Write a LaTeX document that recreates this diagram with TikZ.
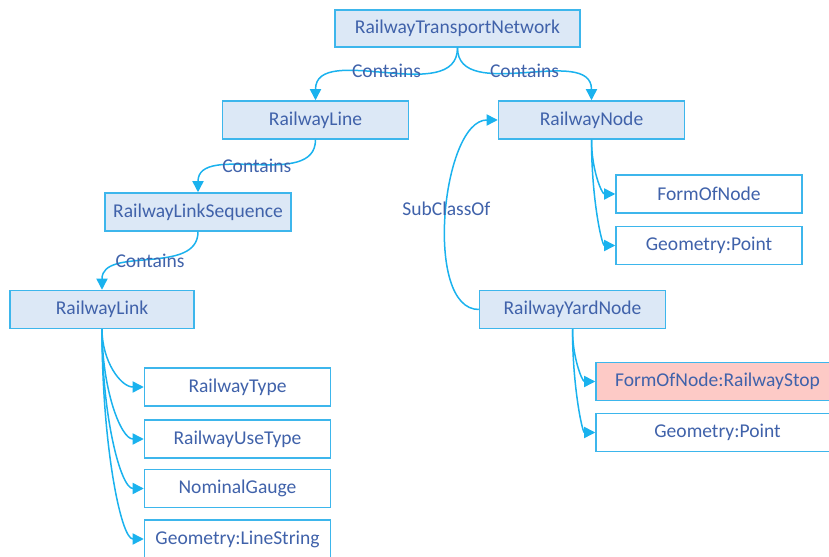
\documentclass[tikz,border=0pt]{standalone}
\usepackage{fontspec}
\setmainfont{Carlito}
\usetikzlibrary{positioning}
\usetikzlibrary{arrows.meta}
\definecolor{class-fill}{HTML}{DCE8F6}
\definecolor{class-border}{HTML}{3DB6EC}
\definecolor{class-text}{HTML}{4062AA}
\definecolor{stop-fill}{HTML}{FDCAC6}
\definecolor{link-cyan}{HTML}{1AB2EE}
\newlength{\basisb}
\setlength{\basisb}{0.25cm}

\tikzset{
  classbox/.style={draw=class-border, line width=0.15\basisb, fill=class-fill, text=class-text,
    minimum width=18.6\basisb, minimum height=3.8\basisb, inner sep=0pt,
    font=\fontsize{13.9}{16}\selectfont},
  propbox/.style={classbox, fill=white},
  stopbox/.style={classbox, fill=stop-fill, minimum width=24.3\basisb},
  link/.style={-{Triangle[length=2.8mm,width=2.8mm]}, line width=0.15\basisb, color=link-cyan},
  linklabel/.style={text=class-text, font=\fontsize{13.9}{16}\selectfont, inner sep=0pt}
}

\begin{document}
\begin{tikzpicture}[line width=0.0\basisb]
    \clip (0\basisb,0\basisb) rectangle (82.9\basisb,-55.7\basisb);

    \draw (45.75\basisb,-2.85\basisb) 
		node[classbox, minimum width=24.5\basisb, minimum height=3.7\basisb] 
			(RailwayTransportNetwork) {RailwayTransportNetwork};

    \draw (31.55\basisb,-12.0\basisb) 
		node[classbox] (RailwayLine) {RailwayLine};
    \draw (59.15\basisb,-12.0\basisb) 
		node[classbox] (RailwayNode) {RailwayNode};
    \draw (19.8\basisb,-21.2\basisb) 
		node[classbox] (RailwayLinkSequence) {RailwayLinkSequence};
    \draw (10.2\basisb,-30.95\basisb) 
		node[classbox, minimum width=18.4\basisb] (RailwayLink) {RailwayLink};
    \draw (57.25\basisb,-30.95\basisb) 
		node[classbox] (RailwayYardNode) {RailwayYardNode};

    % properties of the link
    \draw (23.75\basisb,-38.7\basisb) 
		node[propbox] (RailwayType) {RailwayType};
    \draw (23.75\basisb,-43.9\basisb) 
		node[propbox] (RailwayUseType) {RailwayUseType};
    \draw (23.75\basisb,-48.85\basisb) 
		node[propbox] (NominalGauge) {NominalGauge};
    \draw (23.75\basisb,-53.9\basisb) 
		node[propbox] (GeometryLineString) {Geometry:LineString};

    % properties of the nodes
    \draw (70.9\basisb,-19.4\basisb) 
		node[propbox] (FormOfNode) {FormOfNode};
    \draw (70.9\basisb,-24.55\basisb) 
		node[propbox] (GeometryPoint1) {Geometry:Point};
    \draw (71.75\basisb,-38.15\basisb) 
		node[stopbox] (RailwayStop) {FormOfNode:RailwayStop};
    \draw (71.75\basisb,-43.25\basisb) 
		node[propbox, minimum width=24.3\basisb] (GeometryPoint2) {Geometry:Point};

	\draw[link] (RailwayTransportNetwork.south) to[out=-90, in=90] node[linklabel, midway, yshift=0.3\basisb] {Contains} (RailwayLine.north);
	\draw[link] (RailwayTransportNetwork.south) to[out=-90, in=90] node[linklabel, midway, yshift=0.3\basisb] {Contains} (RailwayNode.north);
	\draw[link] (RailwayLine.south) to[out=-90, in=90] node[linklabel, midway] {Contains} (RailwayLinkSequence.north);
	\draw[link] (RailwayLinkSequence.south) to[out=-90, in=90] node[linklabel, midway] {Contains} (RailwayLink.north);
	\draw[link] (RailwayYardNode.west) to[out=180, in=180, looseness=0.75] node[linklabel, midway, yshift=0.6\basisb] {SubClassOf} (RailwayNode.west);

	\draw[link] (RailwayLink.south) .. controls +(0,-3.2\basisb) and +(-2.3\basisb,0) .. (RailwayType.west);
	\draw[link] (RailwayLink.south) .. controls +(0,-6.0\basisb) and +(-2.3\basisb,0) .. (RailwayUseType.west);
	\draw[link] (RailwayLink.south) .. controls +(0,-8.8\basisb) and +(-2.3\basisb,0) .. (NominalGauge.west);
	\draw[link] (RailwayLink.south) .. controls +(0,-11.5\basisb) and +(-2.3\basisb,0) .. (GeometryLineString.west);
	\draw[link] (RailwayNode.south) .. controls +(0,-3.0\basisb) and +(-1.35\basisb,0) .. (FormOfNode.west);
	\draw[link] (RailwayNode.south) .. controls +(0,-5.9\basisb) and +(-1.35\basisb,0) .. (GeometryPoint1.west);
	\draw[link] (RailwayYardNode.south) .. controls +(0,-2.9\basisb) and +(-1.3\basisb,0) .. (RailwayStop.west);
	\draw[link] (RailwayYardNode.south) .. controls +(0,-5.7\basisb) and +(-1.3\basisb,0) .. (GeometryPoint2.west);
\end{tikzpicture}
\end{document}
